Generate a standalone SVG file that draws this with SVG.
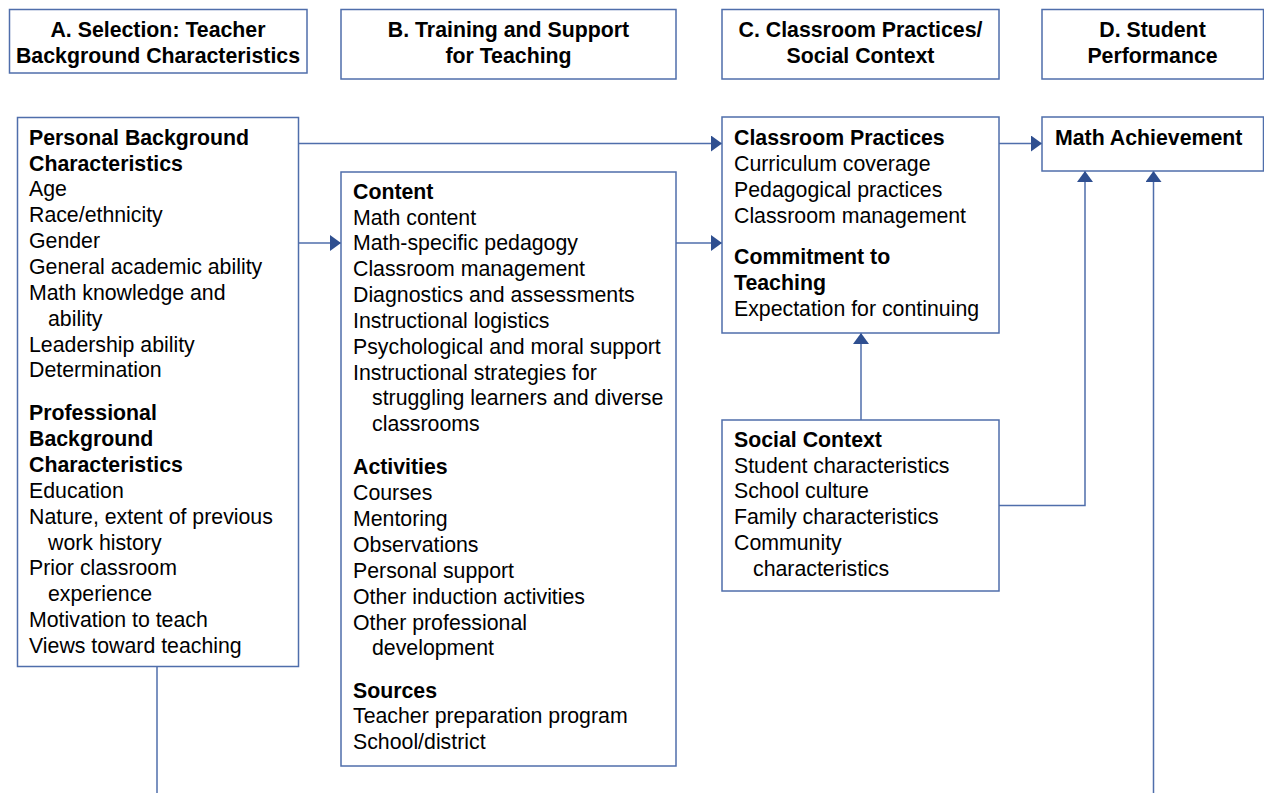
<svg xmlns="http://www.w3.org/2000/svg" width="1264" height="793" viewBox="0 0 1264 793">
<style>
.box{fill:#fff;stroke:#4f6eab;stroke-width:1.5}
.ln{fill:none;stroke:#4f6eab;stroke-width:1.5}
text{font-family:"Liberation Sans",Arial,sans-serif;font-size:21.3px;fill:#000}
.b{font-weight:bold}
.h{font-weight:bold;text-anchor:middle}
</style>
<defs>
<marker id="ah" viewBox="0 0 11 16" markerWidth="11" markerHeight="16" refX="11" refY="8" orient="auto" markerUnits="userSpaceOnUse">
<path d="M0,0 L11,8 L0,16 z" fill="#2f4f90"/>
</marker>
</defs>
<rect width="1264" height="793" fill="#fff"/>

<g id="connectors">
<path class="ln" d="M298.5,143.5 H722" marker-end="url(#ah)"/>
<path class="ln" d="M298.5,243 H341" marker-end="url(#ah)"/>
<path class="ln" d="M676,243 H722" marker-end="url(#ah)"/>
<path class="ln" d="M999,143.5 H1042" marker-end="url(#ah)"/>
<path class="ln" d="M861,420 V333" marker-end="url(#ah)"/>
<path class="ln" d="M999,505.5 H1085 V171" marker-end="url(#ah)"/>
<path class="ln" d="M1153.5,793 V171" marker-end="url(#ah)"/>
<path class="ln" d="M157,666.5 V793"/>
</g>

<g id="headerA">
<rect class="box" x="9.5" y="9.5" width="297.5" height="63.5"/>
<text class="h" x="158" y="36.6">A. Selection: Teacher</text>
<text class="h" x="158" y="62.6">Background Characteristics</text>
</g>
<g id="headerB">
<rect class="box" x="341" y="9.5" width="335" height="69.5"/>
<text class="h" x="508.5" y="36.6">B. Training and Support</text>
<text class="h" x="508.5" y="62.6">for Teaching</text>
</g>
<g id="headerC">
<rect class="box" x="722" y="9.5" width="277" height="69.5"/>
<text class="h" x="860.5" y="36.6">C. Classroom Practices/</text>
<text class="h" x="860.5" y="62.6">Social Context</text>
</g>
<g id="headerD">
<rect class="box" x="1042" y="9.5" width="221.5" height="69.5"/>
<text class="h" x="1152.5" y="36.6">D. Student</text>
<text class="h" x="1152.5" y="62.6">Performance</text>
</g>

<g id="background">
<rect class="box" x="17.5" y="117.5" width="281" height="549"/>
<text class="b" x="29" y="144.7">Personal Background</text>
<text class="b" x="29" y="170.5">Characteristics</text>
<text x="29" y="196.4">Age</text>
<text x="29" y="222.2">Race/ethnicity</text>
<text x="29" y="248.1">Gender</text>
<text x="29" y="274">General academic ability</text>
<text x="29" y="299.8">Math knowledge and</text>
<text x="48" y="325.7">ability</text>
<text x="29" y="351.5">Leadership ability</text>
<text x="29" y="377.4">Determination</text>
<text class="b" x="29" y="420.3">Professional</text>
<text class="b" x="29" y="446.2">Background</text>
<text class="b" x="29" y="472">Characteristics</text>
<text x="29" y="497.9">Education</text>
<text x="29" y="523.7">Nature, extent of previous</text>
<text x="48" y="549.6">work history</text>
<text x="29" y="575.4">Prior classroom</text>
<text x="48" y="601.3">experience</text>
<text x="29" y="627.1">Motivation to teach</text>
<text x="29" y="653">Views toward teaching</text>
</g>

<g id="training">
<rect class="box" x="341" y="172" width="335" height="594"/>
<text class="b" x="353" y="198.6">Content</text>
<text x="353" y="224.5">Math content</text>
<text x="353" y="250.3">Math-specific pedagogy</text>
<text x="353" y="276.2">Classroom management</text>
<text x="353" y="302">Diagnostics and assessments</text>
<text x="353" y="327.9">Instructional logistics</text>
<text x="353" y="353.7">Psychological and moral support</text>
<text x="353" y="379.6">Instructional strategies for</text>
<text x="372" y="405.4">struggling learners and diverse</text>
<text x="372" y="431.3">classrooms</text>
<text class="b" x="353" y="474.3">Activities</text>
<text x="353" y="500.3">Courses</text>
<text x="353" y="526.1">Mentoring</text>
<text x="353" y="552">Observations</text>
<text x="353" y="577.8">Personal support</text>
<text x="353" y="603.7">Other induction activities</text>
<text x="353" y="629.5">Other professional</text>
<text x="372" y="655.4">development</text>
<text class="b" x="353" y="697.5">Sources</text>
<text x="353" y="723.3">Teacher preparation program</text>
<text x="353" y="749.2">School/district</text>
</g>

<g id="classroom">
<rect class="box" x="722" y="117" width="277" height="216"/>
<text class="b" x="734" y="145.3">Classroom Practices</text>
<text x="734" y="171.1">Curriculum coverage</text>
<text x="734" y="197">Pedagogical practices</text>
<text x="734" y="222.8">Classroom management</text>
<text class="b" x="734" y="264.3">Commitment to</text>
<text class="b" x="734" y="290.2">Teaching</text>
<text x="734" y="316">Expectation for continuing</text>
</g>

<g id="social">
<rect class="box" x="722" y="420" width="277" height="171"/>
<text class="b" x="734" y="446.6">Social Context</text>
<text x="734" y="472.5">Student characteristics</text>
<text x="734" y="498.3">School culture</text>
<text x="734" y="524.2">Family characteristics</text>
<text x="734" y="550">Community</text>
<text x="753" y="575.9">characteristics</text>
</g>

<g id="math">
<rect class="box" x="1042" y="117" width="221.5" height="54"/>
<text class="b" x="1055" y="144.6">Math Achievement</text>
</g>
</svg>
